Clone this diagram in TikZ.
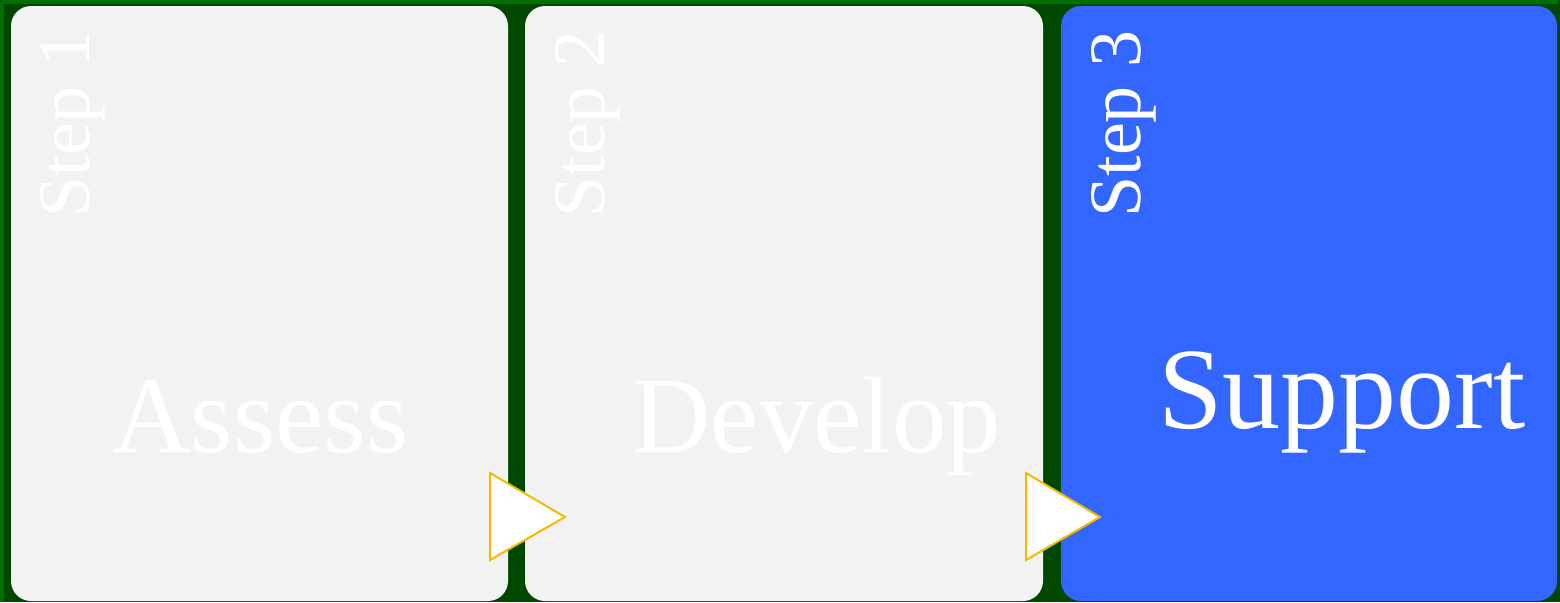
\documentclass[tikz,border=0pt]{standalone}
\usepackage{fontspec}
\setmainfont{Liberation Serif}
\definecolor{bggreen}{RGB}{0,72,0}
\definecolor{rimgreen}{RGB}{0,112,0}
\definecolor{panelgray}{RGB}{242,242,242}
\definecolor{stepblue}{RGB}{51,102,255}
\definecolor{pointergold}{RGB}{245,185,0}
\tikzset{
  panel/.style={rounded corners=10pt},
  steplabel/.style={rotate=90, anchor=base west, inner sep=0pt, text=white,
    font=\fontsize{37}{37}\selectfont},
  titlelabel/.style={anchor=base west, inner sep=0pt, text=white,
    font=\fontsize{54.4}{54}\selectfont},
  pointer/.style={draw=pointergold, fill=white, line width=1pt, line join=miter}
}
\begin{document}
\begin{tikzpicture}[x=0.5pt, y=-0.5pt]

  % coordinates to be reused
  \coordinate (frameA) at (0,0);
  \coordinate (frameB) at (1560,602);
  \coordinate (assessA) at (11,6);
  \coordinate (assessB) at (508,601);
  \coordinate (developA) at (525,6);
  \coordinate (developB) at (1043,601);
  \coordinate (supportA) at (1061,6);
  \coordinate (supportB) at (1557,601);
  \useasboundingbox (frameA) rectangle (frameB);

  % background
  \fill [bggreen] (frameA) rectangle (frameB);
  \draw [rimgreen, line width=2pt] (2,2) -- (1558,2);
  \draw [rimgreen, line width=2pt] (2,2) -- (2,602);

  % draw panels
  \fill [panel, panelgray] (assessA) rectangle (assessB);
  \fill [panel, panelgray] (developA) rectangle (developB);
  \fill [panel, stepblue] (supportA) rectangle (supportB);

  % pointers between the panels
  \draw [pointer] (490,473) -- (490,560) -- (565,517) -- cycle;
  \draw [pointer] (1026,473) -- (1026,560) -- (1100,517) -- cycle;

  % add labels
  \node [steplabel] (step1) at (89,218) {Step 1};
  \node [steplabel] (step2) at (604,218) {Step 2};
  \node [steplabel] (step3) at (1140,218) {Step 3};
  \node [titlelabel] (assess) at (112,452) {Assess};
  \node [titlelabel] (develop) at (632,452) {Develop};
  \node [titlelabel, font=\fontsize{58}{58}\selectfont] (support) at (1158,428) {Support};

\end{tikzpicture}
\end{document}
